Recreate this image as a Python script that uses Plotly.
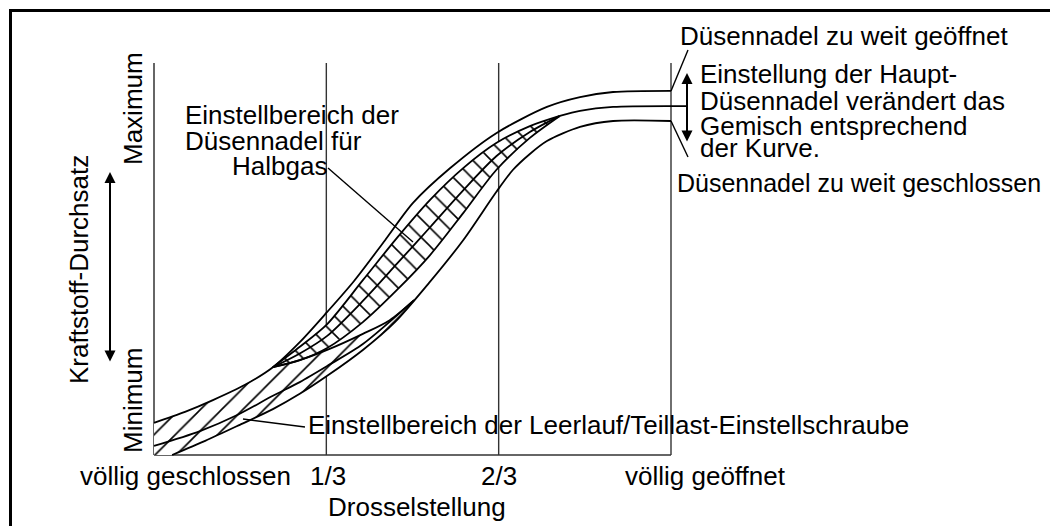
import plotly.graph_objects as go

# ---------------- data (throttle position 0..1, fuel throughput 0..1) ----------------
# "Düsennadel zu weit geöffnet" curve (rich)
rich_x = [0.000, 0.060, 0.114, 0.176, 0.230, 0.282, 0.335, 0.387, 0.447, 0.501, 0.573, 0.662, 0.760, 0.824, 0.888, 1.000]
rich_y = [0.082, 0.110, 0.140, 0.179, 0.224, 0.288, 0.365, 0.444, 0.548, 0.643, 0.732, 0.821, 0.888, 0.913, 0.926, 0.929]

# "Düsennadel zu weit geschlossen" curve (lean)
lean_x = [0.035, 0.099, 0.166, 0.230, 0.282, 0.335, 0.404, 0.466, 0.532, 0.598, 0.662, 0.694, 0.727, 0.760, 0.824, 0.888, 1.000]
lean_y = [0.000, 0.036, 0.077, 0.117, 0.156, 0.202, 0.268, 0.339, 0.439, 0.548, 0.671, 0.727, 0.768, 0.801, 0.837, 0.852, 0.852]

# nominal curve at full throttle (main needle setting)
nominal_x = [0.785, 0.824, 0.888, 1.031]
nominal_y = [0.865, 0.878, 0.888, 0.890]

# idle / part-load adjustment band
idle_top_x = [0.230, 0.282, 0.335, 0.404, 0.456, 0.503]
idle_top_y = [0.224, 0.242, 0.268, 0.309, 0.344, 0.395]
idle_mid_x = [0.000, 0.089, 0.161, 0.230, 0.282, 0.335, 0.404, 0.503]
idle_mid_y = [0.023, 0.061, 0.102, 0.151, 0.186, 0.227, 0.283, 0.395]

# half-throttle needle adjustment band
half_x = [0.230, 0.282, 0.335, 0.404, 0.470, 0.534, 0.598, 0.662, 0.727, 0.785]
half_top_y = [0.224, 0.276, 0.334, 0.446, 0.554, 0.651, 0.732, 0.796, 0.839, 0.865]
half_mid_y = [0.224, 0.259, 0.304, 0.393, 0.488, 0.581, 0.675, 0.762, 0.824, 0.865]
half_bot_y = [0.224, 0.242, 0.273, 0.339, 0.421, 0.510, 0.617, 0.727, 0.809, 0.865]

grid_x = [0.0, 1 / 3, 2 / 3, 1.0]
x_labels = ["völlig geschlossen", "1/3", "2/3", "völlig geöffnet"]
y_labels = ["Minimum", "Maximum"]

# ---------------- layout helpers ----------------
PAGE = 8                       # default body margin of the html page
W, H = 1058 - PAGE, 526 - PAGE
X0PX, X1PX, Y0PX, Y1PX = 154, 671, 455, 63     # window pixel position of data 0 / 1


def X(px):
    return (px - X0PX) / (X1PX - X0PX)


def Y(py):
    return (Y0PX - py) / (Y0PX - Y1PX)


FONT = "Liberation Sans, Arial, Helvetica, sans-serif"
FS = 26
LINE = dict(color="black", width=1.8)

fig = go.Figure()

# hatched idle band (between rich curve / idle top edge and lean curve)
n_rich_idle = rich_x.index(0.230) + 1
n_lean_idle = len([v for v in lean_x if v < idle_top_x[-1]])
poly_x = [0.0] + rich_x[:n_rich_idle] + idle_top_x[1:] + lean_x[:n_lean_idle][::-1]
poly_y = [0.0] + rich_y[:n_rich_idle] + idle_top_y[1:] + lean_y[:n_lean_idle][::-1]
fig.add_trace(go.Scatter(
    x=poly_x, y=poly_y, mode="lines", fill="toself", line=dict(width=0),
    fillcolor="rgba(0,0,0,0)",
    fillpattern=dict(shape="/", size=15, solidity=0.11, fgcolor="black", fgopacity=1, bgcolor="white"),
    hoverinfo="skip"))

# hatched half-throttle band
fig.add_trace(go.Scatter(
    x=half_x + half_x[::-1], y=half_top_y + half_bot_y[::-1], mode="lines", fill="toself",
    line=dict(width=0), fillcolor="rgba(0,0,0,0)",
    fillpattern=dict(shape="\\", size=13, solidity=0.12, fgcolor="black", fgopacity=1, bgcolor="white"),
    hoverinfo="skip"))

# curves
for xs, ys in [(rich_x, rich_y), (lean_x, lean_y), (nominal_x, nominal_y),
               (idle_top_x, idle_top_y), (idle_mid_x, idle_mid_y),
               (half_x, half_top_y), (half_x, half_mid_y), (half_x, half_bot_y)]:
    fig.add_trace(go.Scatter(x=xs, y=ys, mode="lines", line=dict(shape="spline", smoothing=0.8, **LINE),
                             hoverinfo="skip"))

shapes = []
# vertical throttle lines
for i, gx in enumerate(grid_x):
    shapes.append(dict(type="line", xref="x", yref="y", x0=gx, x1=gx, y0=0, y1=1,
                       line=dict(color="#666" if i == 0 else "#333", width=2 if i == 0 else 1.4),
                       layer="below"))
# baseline
shapes.append(dict(type="line", xref="x", yref="y", x0=0, x1=1, y0=0, y1=0,
                   line=dict(color="#333", width=1.4), layer="below"))
# leader lines
leaders = [((328, 168), (413, 242)), ((305, 427), (243, 419)),
           ((671, 91), (688, 50)), ((671, 121), (688, 157))]
for (ax_, ay_), (bx_, by_) in leaders:
    shapes.append(dict(type="line", xref="x", yref="y", x0=X(ax_), y0=Y(ay_), x1=X(bx_), y1=Y(by_),
                       line=dict(color="black", width=1.4)))
# outer frame
shapes.append(dict(type="rect", xref="paper", yref="paper", x0=(10.5 - PAGE) / W, x1=1.05,
                   y0=-0.05, y1=1 - (10.5 - PAGE) / H, line=dict(color="black", width=3)))

ann = []


def text(s, px, py, xanchor="center", angle=0, size=FS):
    ann.append(dict(text=s, x=X(px), y=Y(py), xref="x", yref="y", showarrow=False,
                    xanchor=xanchor, yanchor="middle", textangle=angle,
                    font=dict(family=FONT, size=size, color="black")))


# axis labels
label_px = [185, 328, 499, 705]
for lab, lx in zip(x_labels, label_px):
    text(lab, lx, 476)
text("Drosselstellung", 417, 507)
text(y_labels[0], 133, 401, angle=-90)
text(y_labels[1], 133, 109, angle=-90)
text("Kraftstoff-Durchsatz", 79, 270, angle=-90)

# descriptions
text("Einstellbereich der Leerlauf/Teillast-Einstellschraube", 306, 425, "left")
text("Einstellbereich der", 183, 115, "left")
text("Düsennadel für", 183, 141, "left")
text("Halbgas", 230, 166, "left")
text("Düsennadel zu weit geöffnet", 678, 36, "left")
text("Einstellung der Haupt-", 698, 74, "left")
text("Düsennadel verändert das", 698, 101, "left")
text("Gemisch entsprechend", 698, 126, "left")
text("der Kurve.", 698, 148, "left")
text("Düsennadel zu weit geschlossen", 675, 183, "left", size=25)

# double arrows
for ax_px, top_py, bot_py in [(110, 172, 363), (687, 73, 143)]:
    ann.append(dict(text="", x=X(ax_px), y=Y(top_py), xref="x", yref="y",
                    ax=0, ay=bot_py - top_py, axref="pixel", ayref="pixel",
                    showarrow=True, arrowhead=2, arrowside="end+start",
                    arrowsize=1.1, arrowwidth=2, arrowcolor="black"))

fig.update_layout(
    width=W, height=H, margin=dict(l=0, r=0, t=0, b=0),
    paper_bgcolor="white", plot_bgcolor="white", showlegend=False,
    xaxis=dict(range=[X(PAGE), X(1058)], visible=False, fixedrange=True),
    yaxis=dict(range=[Y(526), Y(PAGE)], visible=False, fixedrange=True),
    shapes=shapes, annotations=ann,
)

fig.write_html("out.html")
